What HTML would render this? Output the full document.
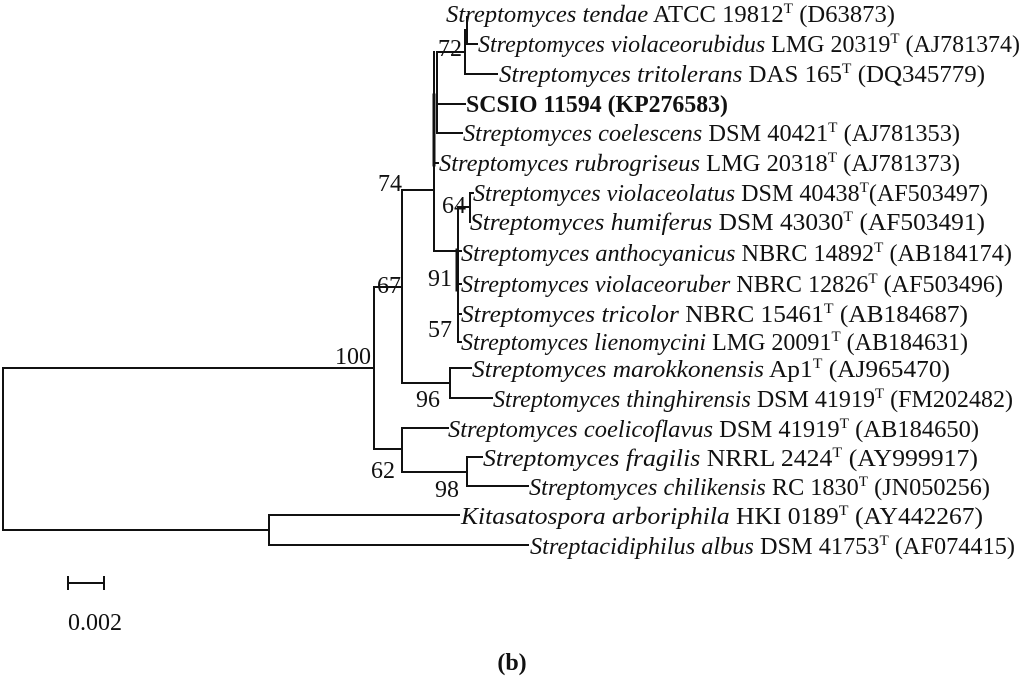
<!DOCTYPE html>
<html><head><meta charset="utf-8"><style>
html,body{margin:0;padding:0;background:#fff;}
svg{display:block;}
text{font-family:"Liberation Serif",serif;font-size:24px;fill:#111;}
.i{font-style:italic;}
</style></head><body>
<svg width="1024" height="677" viewBox="0 0 1024 677" xmlns="http://www.w3.org/2000/svg">
<g stroke="#111" stroke-width="2" fill="none" stroke-linecap="square">
<path d="M3 368 V530 M3 368 H374 M3 530 H269"/>
<path d="M269 515 V545 M269 515 H459 M269 545 H528"/>
<path d="M374 287 V449 M374 287 H402 M374 449 H402"/>
<path d="M402 428 V472 M402 428 H448 M402 472 H467 M467 457 V486 M467 457 H482 M467 486 H528"/>
<path d="M402 190 V383 M402 190 H434 M402 383 H450 M450 368 V398 M450 368 H471 M450 398 H492"/>
<path d="M434 52 V251 M434 251 H458 M437 52 V133 M437 52 H465 M465 30 V74 M465 30 H467 M467 17 V44 M467 44 H477 M465 74 H497 M437 104 H465 M437 133 H462 M434 163 H438"/>
<path d="M434 95 V165" stroke-width="3"/>
<path d="M458 207 V342 M458 207 H470 M470 193 V222 M470 193 H473 M458 251 H461 M458 284 H461 M458 314 H461 M458 342 H461"/>
<path d="M457 250 V290" stroke-width="3"/>
<path d="M68 583 H104 M68 577 V589 M104 577 V589"/>
</g>
<text x="438" y="56">72</text>
<text x="378" y="191">74</text>
<text x="442" y="213">64</text>
<text x="428" y="286">91</text>
<text x="428" y="337">57</text>
<text x="377" y="293">67</text>
<text x="335" y="364">100</text>
<text x="416" y="407">96</text>
<text x="371" y="478">62</text>
<text x="435" y="497">98</text>
<g>
<text x="446" y="22" textLength="449" lengthAdjust="spacingAndGlyphs"><tspan class="i">Streptomyces tendae</tspan> ATCC 19812<tspan font-size="15" dy="-9">T</tspan><tspan dy="9"> (D63873)</tspan></text>
<text x="478" y="52" textLength="542" lengthAdjust="spacingAndGlyphs"><tspan class="i">Streptomyces violaceorubidus</tspan> LMG 20319<tspan font-size="15" dy="-9">T</tspan><tspan dy="9"> (AJ781374)</tspan></text>
<text x="499" y="82" textLength="486" lengthAdjust="spacingAndGlyphs"><tspan class="i">Streptomyces tritolerans</tspan> DAS 165<tspan font-size="15" dy="-9">T</tspan><tspan dy="9"> (DQ345779)</tspan></text>
<text x="466" y="112" font-weight="bold" textLength="262" lengthAdjust="spacingAndGlyphs">SCSIO 11594 (KP276583)</text>
<text x="463" y="141" textLength="497" lengthAdjust="spacingAndGlyphs"><tspan class="i">Streptomyces coelescens</tspan> DSM 40421<tspan font-size="15" dy="-9">T</tspan><tspan dy="9"> (AJ781353)</tspan></text>
<text x="439" y="171" textLength="521" lengthAdjust="spacingAndGlyphs"><tspan class="i">Streptomyces rubrogriseus</tspan> LMG 20318<tspan font-size="15" dy="-9">T</tspan><tspan dy="9"> (AJ781373)</tspan></text>
<text x="473" y="201" textLength="515" lengthAdjust="spacingAndGlyphs"><tspan class="i">Streptomyces violaceolatus</tspan> DSM 40438<tspan font-size="15" dy="-9">T</tspan><tspan dy="9">(AF503497)</tspan></text>
<text x="470" y="230" textLength="515" lengthAdjust="spacingAndGlyphs"><tspan class="i">Streptomyces humiferus</tspan> DSM 43030<tspan font-size="15" dy="-9">T</tspan><tspan dy="9"> (AF503491)</tspan></text>
<text x="461" y="261" textLength="551" lengthAdjust="spacingAndGlyphs"><tspan class="i">Streptomyces anthocyanicus</tspan> NBRC 14892<tspan font-size="15" dy="-9">T</tspan><tspan dy="9"> (AB184174)</tspan></text>
<text x="461" y="292" textLength="542" lengthAdjust="spacingAndGlyphs"><tspan class="i">Streptomyces violaceoruber</tspan> NBRC 12826<tspan font-size="15" dy="-9">T</tspan><tspan dy="9"> (AF503496)</tspan></text>
<text x="461" y="322" textLength="507" lengthAdjust="spacingAndGlyphs"><tspan class="i">Streptomyces tricolor</tspan> NBRC 15461<tspan font-size="15" dy="-9">T</tspan><tspan dy="9"> (AB184687)</tspan></text>
<text x="461" y="350" textLength="507" lengthAdjust="spacingAndGlyphs"><tspan class="i">Streptomyces lienomycini</tspan> LMG 20091<tspan font-size="15" dy="-9">T</tspan><tspan dy="9"> (AB184631)</tspan></text>
<text x="472" y="377" textLength="478" lengthAdjust="spacingAndGlyphs"><tspan class="i">Streptomyces marokkonensis</tspan> Ap1<tspan font-size="15" dy="-9">T</tspan><tspan dy="9"> (AJ965470)</tspan></text>
<text x="493" y="407" textLength="520" lengthAdjust="spacingAndGlyphs"><tspan class="i">Streptomyces thinghirensis</tspan> DSM 41919<tspan font-size="15" dy="-9">T</tspan><tspan dy="9"> (FM202482)</tspan></text>
<text x="448" y="437" textLength="531" lengthAdjust="spacingAndGlyphs"><tspan class="i">Streptomyces coelicoflavus</tspan> DSM 41919<tspan font-size="15" dy="-9">T</tspan><tspan dy="9"> (AB184650)</tspan></text>
<text x="483" y="466" textLength="495" lengthAdjust="spacingAndGlyphs"><tspan class="i">Streptomyces fragilis</tspan> NRRL 2424<tspan font-size="15" dy="-9">T</tspan><tspan dy="9"> (AY999917)</tspan></text>
<text x="529" y="495" textLength="461" lengthAdjust="spacingAndGlyphs"><tspan class="i">Streptomyces chilikensis</tspan> RC 1830<tspan font-size="15" dy="-9">T</tspan><tspan dy="9"> (JN050256)</tspan></text>
<text x="461" y="524" textLength="522" lengthAdjust="spacingAndGlyphs"><tspan class="i">Kitasatospora arboriphila</tspan> HKI 0189<tspan font-size="15" dy="-9">T</tspan><tspan dy="9"> (AY442267)</tspan></text>
<text x="530" y="554" textLength="485" lengthAdjust="spacingAndGlyphs"><tspan class="i">Streptacidiphilus albus</tspan> DSM 41753<tspan font-size="15" dy="-9">T</tspan><tspan dy="9"> (AF074415)</tspan></text>
</g>
<text x="68" y="630">0.002</text>
<text x="512" y="670" text-anchor="middle" font-weight="bold">(b)</text>
</svg>
</body></html>
